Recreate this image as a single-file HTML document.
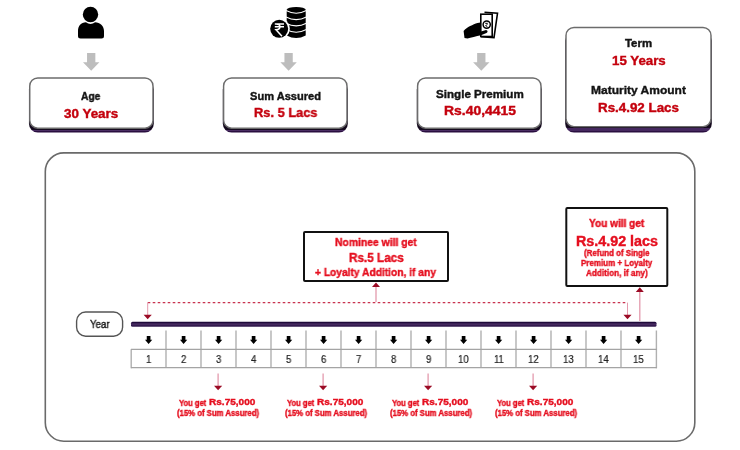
<!DOCTYPE html>
<html><head><meta charset="utf-8"><style>
html,body{margin:0;padding:0;background:#fff;}
body{width:740px;height:450px;overflow:hidden;position:relative;font-family:"Liberation Sans",sans-serif;}
svg{position:absolute;left:0;top:0;}
.t{position:absolute;white-space:nowrap;line-height:1;transform-origin:0 0;will-change:transform;}
.b{-webkit-text-stroke:0.4px currentColor;}
</style></head><body>
<svg width="740" height="450" viewBox="0 0 740 450">
<defs><linearGradient id="gs" gradientUnits="userSpaceOnUse" x1="0" y1="120" x2="0" y2="135"><stop offset="0.5733" stop-color="#150a1e"/><stop offset="0.6333" stop-color="#150a1e"/><stop offset="0.6667" stop-color="#4a2d63"/><stop offset="0.7067" stop-color="#4a2d63"/><stop offset="0.7333" stop-color="#2a0f40"/><stop offset="0.8400" stop-color="#2a0f40"/></linearGradient></defs>
<defs><linearGradient id="gt" gradientUnits="userSpaceOnUse" x1="0" y1="120" x2="0" y2="135"><stop offset="0.4533" stop-color="#150a1e"/><stop offset="0.5067" stop-color="#150a1e"/><stop offset="0.5533" stop-color="#45285f"/><stop offset="0.7067" stop-color="#45285f"/><stop offset="0.7467" stop-color="#2a0f40"/><stop offset="0.8400" stop-color="#2a0f40"/></linearGradient></defs>
<rect x="28.95" y="80.8" width="124.85" height="51.79999999999999" rx="8.8" fill="url(#gs)"/>
<rect x="29.75" y="78" width="123.25" height="50.19999999999999" rx="8" fill="#fff" stroke="#6c6c6c" stroke-width="1.45"/>
<rect x="222.79999999999998" y="80.8" width="125.0" height="51.79999999999999" rx="8.8" fill="url(#gs)"/>
<rect x="223.6" y="78" width="123.4" height="50.19999999999999" rx="8" fill="#fff" stroke="#6c6c6c" stroke-width="1.45"/>
<rect x="416.8" y="80.8" width="124.99999999999997" height="51.79999999999999" rx="8.8" fill="url(#gs)"/>
<rect x="417.6" y="78" width="123.39999999999998" height="50.19999999999999" rx="8" fill="#fff" stroke="#6c6c6c" stroke-width="1.45"/>
<rect x="565.2" y="31.900000000000002" width="146.6" height="100.69999999999999" rx="8.8" fill="url(#gt)"/>
<rect x="566" y="27.5" width="145" height="99.1" rx="8" fill="#fff" stroke="#6c6c6c" stroke-width="1.45"/>
<rect x="45.3" y="152.9" width="649.5" height="288.3" rx="18.5" fill="none" stroke="#6a6a6a" stroke-width="1.6"/>
<path d="M87.05 53.1 H95.35000000000001 V62.2 H99.4 L91.2 70.7 L83.0 62.2 H87.05 Z" fill="#bdbdbd"/>
<path d="M284.45000000000005 53.1 H292.75 V62.2 H296.8 L288.6 70.7 L280.40000000000003 62.2 H284.45000000000005 Z" fill="#bdbdbd"/>
<path d="M477.15000000000003 53.1 H485.45 V62.2 H489.5 L481.3 70.7 L473.1 62.2 H477.15000000000003 Z" fill="#bdbdbd"/>
<defs><linearGradient id="gb" gradientUnits="userSpaceOnUse" x1="0" y1="321.7" x2="0" y2="326.7"><stop offset="0" stop-color="#1f0a3a"/><stop offset="0.25" stop-color="#1f0a3a"/><stop offset="0.4" stop-color="#45295f"/><stop offset="0.6" stop-color="#45295f"/><stop offset="0.75" stop-color="#341b4f"/><stop offset="1" stop-color="#341b4f"/></linearGradient></defs>
<rect x="131" y="321.7" width="525.5" height="5" rx="1.5" fill="url(#gb)"/>
<path d="M166 330.4 V367.6 M201 330.4 V367.6 M236 330.4 V367.6 M271 330.4 V367.6 M306 330.4 V367.6 M341 330.4 V367.6 M376 330.4 V367.6 M411 330.4 V367.6 M446 330.4 V367.6 M481 330.4 V367.6 M516 330.4 V367.6 M551 330.4 V367.6 M586 330.4 V367.6 M621 330.4 V367.6" stroke="#c2c2c2" stroke-width="1.8" fill="none"/>
<path d="M131.2 349.2 V368.2 M656.4 330.4 V368.2" stroke="#b0b0b0" stroke-width="1.4" fill="none"/>
<path d="M131 349.4 H657 M131 367.6 H657" stroke="#a4a4a4" stroke-width="1.3" fill="none"/>
<path d="M146.75 336.1 H150.45 V339.7 H152.25 L148.6 343.9 L144.95 339.7 H146.75 Z" fill="#000"/>
<path d="M181.75 336.1 H185.45 V339.7 H187.25 L183.6 343.9 L179.95 339.7 H181.75 Z" fill="#000"/>
<path d="M216.75 336.1 H220.45 V339.7 H222.25 L218.6 343.9 L214.95 339.7 H216.75 Z" fill="#000"/>
<path d="M251.75 336.1 H255.45 V339.7 H257.25 L253.6 343.9 L249.95 339.7 H251.75 Z" fill="#000"/>
<path d="M286.75 336.1 H290.45000000000005 V339.7 H292.25 L288.6 343.9 L284.95000000000005 339.7 H286.75 Z" fill="#000"/>
<path d="M321.75 336.1 H325.45000000000005 V339.7 H327.25 L323.6 343.9 L319.95000000000005 339.7 H321.75 Z" fill="#000"/>
<path d="M356.75 336.1 H360.45000000000005 V339.7 H362.25 L358.6 343.9 L354.95000000000005 339.7 H356.75 Z" fill="#000"/>
<path d="M391.75 336.1 H395.45000000000005 V339.7 H397.25 L393.6 343.9 L389.95000000000005 339.7 H391.75 Z" fill="#000"/>
<path d="M426.75 336.1 H430.45000000000005 V339.7 H432.25 L428.6 343.9 L424.95000000000005 339.7 H426.75 Z" fill="#000"/>
<path d="M461.75 336.1 H465.45000000000005 V339.7 H467.25 L463.6 343.9 L459.95000000000005 339.7 H461.75 Z" fill="#000"/>
<path d="M496.75 336.1 H500.45000000000005 V339.7 H502.25 L498.6 343.9 L494.95000000000005 339.7 H496.75 Z" fill="#000"/>
<path d="M531.75 336.1 H535.45 V339.7 H537.25 L533.6 343.9 L529.95 339.7 H531.75 Z" fill="#000"/>
<path d="M566.75 336.1 H570.45 V339.7 H572.25 L568.6 343.9 L564.95 339.7 H566.75 Z" fill="#000"/>
<path d="M601.75 336.1 H605.45 V339.7 H607.25 L603.6 343.9 L599.95 339.7 H601.75 Z" fill="#000"/>
<path d="M636.75 336.1 H640.45 V339.7 H642.25 L638.6 343.9 L634.95 339.7 H636.75 Z" fill="#000"/>
<path d="M147.7 302.6 H627.5" stroke="#c8334f" stroke-width="1.2" stroke-dasharray="2.6 2.4" fill="none"/>
<path d="M147.7 302.6 V315 M627.5 302.6 V315" stroke="#e39aad" stroke-width="1" fill="none"/>
<path d="M143.6 314.7 H151.8 L147.7 319.2 Z M623.4 314.7 H631.6 L627.5 319.2 Z" fill="#9b0b25"/>
<path d="M376 302 V287 M639.8 321 V292" stroke="#e39aad" stroke-width="1.3" fill="none"/>
<path d="M372 287 H380 L376 282.5 Z M635.8 292 H643.8 L639.8 287.3 Z" fill="#9b0b25"/>
<path d="M218.1 373.4 V386.5" stroke="#e39aad" stroke-width="1.3" fill="none"/>
<path d="M214.0 385.8 H222.2 L218.1 390.3 Z" fill="#9b0b25"/>
<path d="M323.1 373.4 V386.5" stroke="#e39aad" stroke-width="1.3" fill="none"/>
<path d="M319.0 385.8 H327.20000000000005 L323.1 390.3 Z" fill="#9b0b25"/>
<path d="M428.1 373.4 V386.5" stroke="#e39aad" stroke-width="1.3" fill="none"/>
<path d="M424.0 385.8 H432.20000000000005 L428.1 390.3 Z" fill="#9b0b25"/>
<path d="M533.1 373.4 V386.5" stroke="#e39aad" stroke-width="1.3" fill="none"/>
<path d="M529.0 385.8 H537.2 L533.1 390.3 Z" fill="#9b0b25"/>
<rect x="304" y="232" width="144" height="49" rx="1" fill="#fff" stroke="#111" stroke-width="2"/>
<rect x="566.3" y="208.1" width="101" height="77.9" rx="1" fill="#fff" stroke="#111" stroke-width="2"/>
<rect x="76.6" y="312" width="46" height="24.2" rx="9" fill="#fff" stroke="#555" stroke-width="1.4"/>
<circle cx="90.5" cy="14.5" r="7.7" fill="#000"/>
<path d="M78 36 V31 C78 26 81 22.5 86 22.3 C87.5 23.6 89 24 90.5 24 C92 24 93.5 23.6 95 22.3 C100 22.5 104 26 104 31 V36 Q104 38.5 101.5 38.5 H80.5 Q78 38.5 78 36 Z" fill="#000"/>
<path d="M286.7 9.8 A9.5 2.8 0 0 1 305.7 9.8 V35.5 Q296.2 40.7 286.7 35.5 Z" fill="#000"/>
<path d="M286 10.6 Q296.2 15.799999999999999 306.4 10.6 M286 17.0 Q296.2 22.200000000000003 306.4 17.0 M286 23.299999999999997 Q296.2 28.5 306.4 23.299999999999997 M286 29.6 Q296.2 34.800000000000004 306.4 29.6" stroke="#fff" stroke-width="1.1" fill="none"/>
<circle cx="279.2" cy="28.8" r="10.6" fill="#fff"/>
<circle cx="279.2" cy="28.8" r="9" fill="#000"/>
<path d="M274.8 23.9 H284 M274.8 26.8 H284 M276 23.9 C281.3 23.9 281.3 29.7 276 29.7 L282 36.2" stroke="#fff" stroke-width="1.5" fill="none"/>
<path d="M484.5 12.2 L497.5 13.3 L494 37.6 L481 36.6" fill="none" stroke="#000" stroke-width="1.6"/>
<rect x="480.8" y="14.2" width="11.4" height="22.3" fill="#fff" stroke="#000" stroke-width="1.6"/>
<circle cx="486.7" cy="24.6" r="3.6" fill="none" stroke="#000" stroke-width="1.5"/>
<path d="M485.3 23.3 H488 M485.5 23.3 C487.6 23.3 487.6 25.6 485.5 25.6 L487.6 27" stroke="#000" stroke-width="0.8" fill="none"/>
<path d="M463.6 31 C467 27 473 24.5 477.5 23 L480.5 22.4 L481 31.5 L486 30 C488 30.2 488 32.3 486.5 33 L481 35.3 C476 36.5 471 37.5 467.5 38.5 L464.5 38 Z" fill="#000"/>
</svg>
<div class="t b" style="left:81.40px;top:91.50px;font-size:10.4px;color:#141414;font-weight:bold;transform:scaleX(0.987)">Age</div>
<div class="t b" style="left:64.00px;top:106.96px;font-size:13.4px;color:#c4000d;font-weight:bold;transform:scaleX(1.003)">30 Years</div>
<div class="t b" style="left:250.30px;top:90.79px;font-size:11px;color:#141414;font-weight:bold;transform:scaleX(1.007)">Sum Assured</div>
<div class="t b" style="left:254.40px;top:107.38px;font-size:12.9px;color:#c4000d;font-weight:bold;transform:scaleX(0.995)">Rs. 5 Lacs</div>
<div class="t b" style="left:436.10px;top:89.23px;font-size:11.3px;color:#141414;font-weight:bold;transform:scaleX(1.028)">Single Premium</div>
<div class="t b" style="left:444.20px;top:105.43px;font-size:12.6px;color:#c4000d;font-weight:bold;transform:scaleX(1.105)">Rs.40,4415</div>
<div class="t b" style="left:625.00px;top:37.86px;font-size:10.8px;color:#141414;font-weight:bold;transform:scaleX(1.055)">Term</div>
<div class="t b" style="left:611.80px;top:54.34px;font-size:13.3px;color:#c4000d;font-weight:bold;transform:scaleX(0.999)">15 Years</div>
<div class="t b" style="left:591.00px;top:85.31px;font-size:11.8px;color:#141414;font-weight:bold;transform:scaleX(1.018)">Maturity Amount</div>
<div class="t b" style="left:598.00px;top:102.43px;font-size:12.6px;color:#c4000d;font-weight:bold;transform:scaleX(1.061)">Rs.4.92 Lacs</div>
<div class="t b" style="left:335.40px;top:236.96px;font-size:10.8px;color:#e50f1f;font-weight:bold;transform:scaleX(0.960)">Nominee will get</div>
<div class="t b" style="left:349.00px;top:251.70px;font-size:12.4px;color:#e50f1f;font-weight:bold;transform:scaleX(0.946)">Rs.5 Lacs</div>
<div class="t b" style="left:315.40px;top:267.03px;font-size:10.6px;color:#e50f1f;font-weight:bold;transform:scaleX(0.965)">+ Loyalty Addition, if any</div>
<div class="t b" style="left:589.30px;top:217.91px;font-size:10.5px;color:#e50f1f;font-weight:bold;transform:scaleX(0.959)">You will get</div>
<div class="t b" style="left:576.40px;top:234.45px;font-size:14.0px;color:#e50f1f;font-weight:bold;transform:scaleX(1.022)">Rs.4.92 lacs</div>
<div class="t b" style="left:584.20px;top:249.38px;font-size:9px;color:#e50f1f;font-weight:bold;transform:scaleX(0.879)">(Refund of Single</div>
<div class="t b" style="left:581.30px;top:259.38px;font-size:9px;color:#e50f1f;font-weight:bold;transform:scaleX(0.888)">Premium + Loyalty</div>
<div class="t b" style="left:585.90px;top:269.38px;font-size:9px;color:#e50f1f;font-weight:bold;transform:scaleX(0.907)">Addition, if any)</div>
<div class="t" style="left:89.80px;top:319.70px;font-size:10.4px;color:#222;font-weight:normal;transform:scaleX(0.933);-webkit-text-stroke:0.45px #222">Year</div>
<div class="t" style="left:145.95px;top:354.03px;font-size:10.6px;color:#222;font-weight:normal;transform:scaleX(0.900);-webkit-text-stroke:0.2px #222">1</div>
<div class="t" style="left:180.95px;top:354.03px;font-size:10.6px;color:#222;font-weight:normal;transform:scaleX(0.900);-webkit-text-stroke:0.2px #222">2</div>
<div class="t" style="left:215.95px;top:354.03px;font-size:10.6px;color:#222;font-weight:normal;transform:scaleX(0.900);-webkit-text-stroke:0.2px #222">3</div>
<div class="t" style="left:250.95px;top:354.03px;font-size:10.6px;color:#222;font-weight:normal;transform:scaleX(0.900);-webkit-text-stroke:0.2px #222">4</div>
<div class="t" style="left:285.95px;top:354.03px;font-size:10.6px;color:#222;font-weight:normal;transform:scaleX(0.900);-webkit-text-stroke:0.2px #222">5</div>
<div class="t" style="left:320.95px;top:354.03px;font-size:10.6px;color:#222;font-weight:normal;transform:scaleX(0.900);-webkit-text-stroke:0.2px #222">6</div>
<div class="t" style="left:355.95px;top:354.03px;font-size:10.6px;color:#222;font-weight:normal;transform:scaleX(0.900);-webkit-text-stroke:0.2px #222">7</div>
<div class="t" style="left:390.95px;top:354.03px;font-size:10.6px;color:#222;font-weight:normal;transform:scaleX(0.900);-webkit-text-stroke:0.2px #222">8</div>
<div class="t" style="left:425.95px;top:354.03px;font-size:10.6px;color:#222;font-weight:normal;transform:scaleX(0.900);-webkit-text-stroke:0.2px #222">9</div>
<div class="t" style="left:458.31px;top:354.03px;font-size:10.6px;color:#222;font-weight:normal;transform:scaleX(0.900);-webkit-text-stroke:0.2px #222">10</div>
<div class="t" style="left:493.64px;top:354.03px;font-size:10.6px;color:#222;font-weight:normal;transform:scaleX(0.900);-webkit-text-stroke:0.2px #222">11</div>
<div class="t" style="left:528.31px;top:354.03px;font-size:10.6px;color:#222;font-weight:normal;transform:scaleX(0.900);-webkit-text-stroke:0.2px #222">12</div>
<div class="t" style="left:563.31px;top:354.03px;font-size:10.6px;color:#222;font-weight:normal;transform:scaleX(0.900);-webkit-text-stroke:0.2px #222">13</div>
<div class="t" style="left:598.31px;top:354.03px;font-size:10.6px;color:#222;font-weight:normal;transform:scaleX(0.900);-webkit-text-stroke:0.2px #222">14</div>
<div class="t" style="left:633.31px;top:354.03px;font-size:10.6px;color:#222;font-weight:normal;transform:scaleX(0.900);-webkit-text-stroke:0.2px #222">15</div>
<div class="t b" style="left:178.50px;top:398.69px;font-size:8.4px;color:#e50f1f;font-weight:bold;transform:scaleX(0.905)">You get</div>
<div class="t b" style="left:208.70px;top:397.42px;font-size:9.9px;color:#e50f1f;font-weight:bold;transform:scaleX(1.018)">Rs.75,000</div>
<div class="t b" style="left:176.70px;top:409.19px;font-size:8.4px;color:#e50f1f;font-weight:bold;transform:scaleX(0.926)">(15% of Sum Assured)</div>
<div class="t b" style="left:286.50px;top:398.69px;font-size:8.4px;color:#e50f1f;font-weight:bold;transform:scaleX(0.905)">You get</div>
<div class="t b" style="left:316.70px;top:397.42px;font-size:9.9px;color:#e50f1f;font-weight:bold;transform:scaleX(1.018)">Rs.75,000</div>
<div class="t b" style="left:284.70px;top:409.19px;font-size:8.4px;color:#e50f1f;font-weight:bold;transform:scaleX(0.926)">(15% of Sum Assured)</div>
<div class="t b" style="left:391.50px;top:398.69px;font-size:8.4px;color:#e50f1f;font-weight:bold;transform:scaleX(0.905)">You get</div>
<div class="t b" style="left:421.70px;top:397.42px;font-size:9.9px;color:#e50f1f;font-weight:bold;transform:scaleX(1.018)">Rs.75,000</div>
<div class="t b" style="left:389.70px;top:409.19px;font-size:8.4px;color:#e50f1f;font-weight:bold;transform:scaleX(0.926)">(15% of Sum Assured)</div>
<div class="t b" style="left:496.50px;top:398.69px;font-size:8.4px;color:#e50f1f;font-weight:bold;transform:scaleX(0.905)">You get</div>
<div class="t b" style="left:526.70px;top:397.42px;font-size:9.9px;color:#e50f1f;font-weight:bold;transform:scaleX(1.018)">Rs.75,000</div>
<div class="t b" style="left:494.70px;top:409.19px;font-size:8.4px;color:#e50f1f;font-weight:bold;transform:scaleX(0.926)">(15% of Sum Assured)</div>
</body></html>
